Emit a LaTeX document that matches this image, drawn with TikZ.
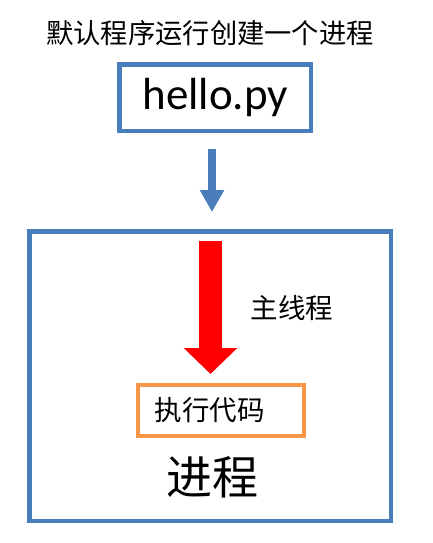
\documentclass[tikz,border=0pt]{standalone}
\usepackage{fontspec}
\setmainfont{Carlito}
\newfontfamily\cjk{Noto Sans CJK SC}
\usetikzlibrary{arrows.meta}
\definecolor{boxblue}{HTML}{4A7EBB}
\definecolor{boxorange}{HTML}{F79646}
\definecolor{arrred}{HTML}{FF0000}
\begin{document}
\begin{tikzpicture}[x=1pt,y=-1pt,
  bluebox/.style={draw=boxblue, line width=4.5pt, inner sep=0pt},
  orangebox/.style={draw=boxorange, line width=4pt},
  cjktext/.style={font=\cjk, text=black, inner sep=0pt},
  bluearrow/.style={draw=boxblue, fill=boxblue, line width=8pt, -{Triangle[width=23pt,length=22pt]}},
  redarrow/.style={draw=arrred, fill=arrred, line width=23pt, -{Triangle[width=52pt,length=26pt]}}]
\useasboundingbox (0,0) rectangle (432,543);
\node[cjktext, font=\cjk\fontsize{27.3}{30}\selectfont] (title) at (210,33) {默认程序运行创建一个进程};
\node[bluebox, minimum width=191.5pt, minimum height=66.5pt, font=\fontsize{45}{50}\selectfont] (hello) at (215.25,97.75) {hello.py};
\node[bluebox, minimum width=361.5pt, minimum height=289.5pt] (proc) at (210.25,376.25) {};
\coordinate (bstart) at (212,149);
\coordinate (bend) at (212,212);
\draw[bluearrow] (bstart) -- (bend);
\coordinate (rstart) at (210.5,241);
\coordinate (rend) at (210.5,374);
\draw[redarrow] (rstart) -- (rend);
\node[cjktext, font=\cjk\fontsize{27.5}{30}\selectfont] (main) at (292,308) {主线程};
\node[orangebox, minimum width=166pt, minimum height=51pt, text width=132pt, align=left, inner xsep=17pt, inner ysep=0pt, font=\cjk\fontsize{27.5}{30}\selectfont] (exec) at (220.5,410) {执行代码};
\node[cjktext, font=\cjk\fontsize{46}{50}\selectfont] (label) at (212,477) {进程};
\end{tikzpicture}
\end{document}
